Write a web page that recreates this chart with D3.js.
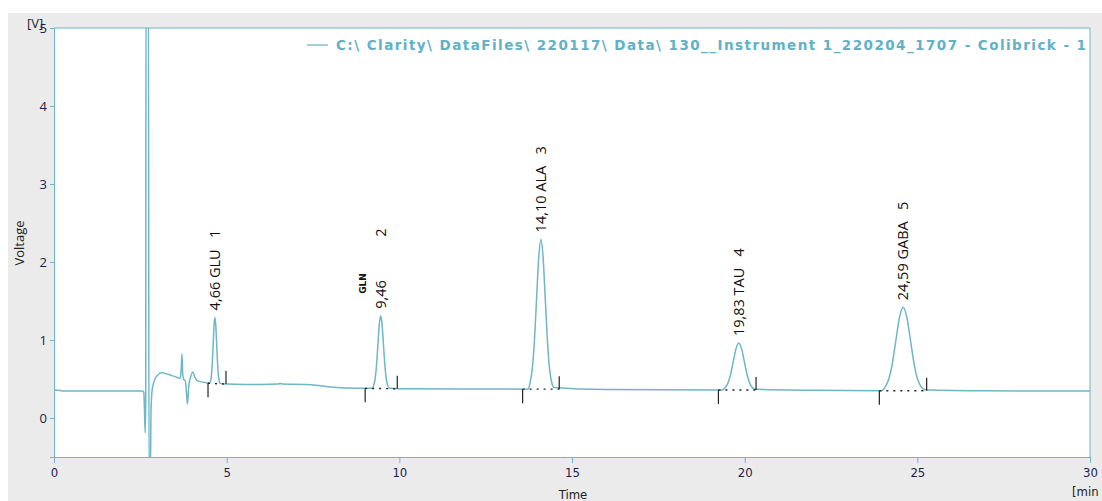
<!DOCTYPE html>
<html><head><meta charset="utf-8">
<script src="https://cdn.jsdelivr.net/npm/d3@7"></script>
<style>
html,body{margin:0;padding:0;background:#fff;}
svg{display:block;}
</style></head>
<body>
<svg id="c" width="1102" height="501"></svg>
<script>
// ---- data ----
const traceTime = [0,0.05,0.3,1.0,2.0,2.55,2.60,2.62,2.64,2.655,2.665,2.735,2.75,2.79,2.81,2.84,2.9,3.0,3.1,3.3,3.5,3.65,3.68,3.705,3.73,3.76,3.80,3.84,3.865,3.9,3.96,4.02,4.08,4.15,4.3,4.45,
 4.51,4.535,4.56,4.585,4.61,4.635,4.66,4.685,4.71,4.735,4.76,4.785,4.81,
 5.0,5.5,6.0,6.5,6.55,6.6,7.3,7.7,8.0,8.5,9.0,9.22,
 9.26,9.30,9.34,9.38,9.42,9.46,9.50,9.54,9.58,9.62,9.66,9.70,
 10.0,12.0,13.725,
 13.7875,13.85,13.9125,13.975,14.0375,14.10,14.1625,14.225,14.2875,14.35,14.4125,14.475,
 16.0,19.35,
 19.43,19.51,19.59,19.67,19.75,19.83,19.91,19.99,20.07,20.15,20.23,20.31,
 22.0,23.96,
 24.065,24.17,24.275,24.38,24.485,24.59,24.695,24.80,24.905,25.01,25.115,25.22,
 27.0,30.0];
const traceVoltage = [0.35,0.36,0.345,0.345,0.345,0.345,0.33,0.1,-0.19,0.2,5.6,5.6,-0.7,-0.7,0.1,0.35,0.47,0.55,0.58,0.56,0.53,0.51,0.6,0.82,0.55,0.49,0.48,0.3,0.18,0.4,0.53,0.59,0.52,0.48,0.46,0.45,
 0.449,0.477,0.555,0.716,0.956,1.19,1.29,1.185,0.95,0.71,0.55,0.472,0.444,
 0.435,0.43,0.43,0.435,0.445,0.435,0.43,0.415,0.398,0.385,0.38,0.38,
 0.421,0.506,0.682,0.945,1.20,1.31,1.20,0.945,0.682,0.506,0.421,0.385,
 0.375,0.372,0.37,
 0.455,0.63,0.994,1.535,2.063,2.29,2.063,1.535,0.994,0.63,0.455,0.391,
 0.365,0.36,
 0.386,0.441,0.555,0.724,0.889,0.96,0.889,0.724,0.555,0.441,0.386,0.367,
 0.355,0.35,
 0.397,0.494,0.698,1.0,1.294,1.42,1.294,1.0,0.698,0.494,0.397,0.362,
 0.348,0.345];

const peakTime   = [4.66, 9.46, 14.10, 19.83, 24.59];
const peakHeight = [1.29, 1.31, 2.29, 0.96, 1.42];
const peakName   = ["GLU", "GLN", "ALA", "TAU", "GABA"];
const peakLabel  = ["4,66 GLU\u00a0\u00a0\u00a01", "9,46", "14,10 ALA\u00a0\u00a0\u00a03", "19,83 TAU\u00a0\u00a0\u00a04", "24,59 GABA\u00a0\u00a0\u00a05"];
const peakStart  = [4.46, 9.01, 13.57, 19.24, 23.90];
const peakEnd    = [4.98, 9.94, 14.63, 20.33, 25.27];
const startBase  = [0.445, 0.38, 0.37, 0.36, 0.35];
const endBase    = [0.435, 0.375, 0.37, 0.358, 0.35];

const xTicks = [0, 5, 10, 15, 20, 25, 30];
const yTicks = [0, 1, 2, 3, 4, 5];
const legendText = "C:\\ Clarity\\ DataFiles\\ 220117\\ Data\\ 130__Instrument 1_220204_1707 - Colibrick - 1";

// ---- layout ----
const svg = d3.select("#c");
const L = 54, R = 1090, T = 28, B = 457;
const x = d3.scaleLinear().domain([0, 30]).range([L, R]);
const y = d3.scaleLinear().domain([-0.5, 5]).range([B, T]);
const teal = "#6fb6c7";
const tickCol = "#1d1d4f";

svg.append("rect").attr("x", 8).attr("y", 13).attr("width", 1094).attr("height", 488).attr("fill", "#ebebeb");
svg.append("rect").attr("x", L).attr("y", T).attr("width", R - L).attr("height", B - T).attr("fill", "#fff");

svg.append("defs").append("clipPath").attr("id", "clip")
  .append("rect").attr("x", L).attr("y", T).attr("width", R - L).attr("height", B - T);

// axes
const xAxis = d3.axisBottom(x).tickValues(xTicks).tickSize(6).tickPadding(5).tickFormat(d3.format("d"));
const gx = svg.append("g").attr("transform", `translate(0,${B})`).call(xAxis);
gx.select(".domain").attr("stroke", teal);
gx.selectAll(".tick line").attr("stroke", teal);
gx.selectAll(".tick text").attr("fill", tickCol).attr("font-family", "'Liberation Sans Narrow','DejaVu Sans Condensed',sans-serif").attr("font-size", 13);

const yAxis = d3.axisLeft(y).tickValues(yTicks).tickSize(4).tickPadding(3).tickFormat(d3.format("d"));
const gy = svg.append("g").attr("transform", `translate(${L},0)`).call(yAxis);
gy.select(".domain").attr("stroke", teal);
gy.selectAll(".tick line").attr("stroke", teal);
gy.selectAll(".tick text").attr("fill", tickCol).attr("font-family", "'Open Sans',sans-serif").attr("font-size", 13);

// frame top/right
svg.append("line").attr("x1", L).attr("x2", R).attr("y1", T).attr("y2", T).attr("stroke", teal);
svg.append("line").attr("x1", R).attr("x2", R).attr("y1", T).attr("y2", B).attr("stroke", teal);

// trace
const pts = traceTime.map((t, i) => [t, traceVoltage[i]]);
const line = d3.line().x(d => x(d[0])).y(d => y(d[1])).curve(d3.curveMonotoneX);
svg.append("path").attr("clip-path", "url(#clip)").attr("d", line(pts))
  .attr("fill", "none").attr("stroke", teal).attr("stroke-width", 1.5);

// integration marks
const marks = svg.append("g").attr("stroke", "#222");
peakTime.forEach((p, i) => {
  marks.append("line").attr("x1", x(peakStart[i])).attr("x2", x(peakStart[i]))
    .attr("y1", y(startBase[i])).attr("y2", y(startBase[i]) + 14).attr("stroke-width", 1.2);
  marks.append("line").attr("x1", x(peakEnd[i])).attr("x2", x(peakEnd[i]))
    .attr("y1", y(endBase[i])).attr("y2", y(endBase[i]) - 13).attr("stroke-width", 1.2);
  marks.append("line").attr("x1", x(peakStart[i])).attr("x2", x(peakEnd[i]))
    .attr("y1", y(startBase[i])).attr("y2", y(endBase[i]))
    .attr("stroke-dasharray", "2,5").attr("stroke-width", 1.4);
});

// peak labels
const lab = svg.append("g").attr("font-family", "'Open Sans',sans-serif").attr("font-size", 14.5).attr("fill", "#111");
peakTime.forEach((p, i) => {
  const px = x(p), py = y(peakHeight[i]) - 7;
  lab.append("text").attr("transform", `translate(${px + 5},${py}) rotate(-90)`)
    .style("white-space", "pre").text(peakLabel[i]);
});
// GLN separate small bold name and number
{
  const px = x(peakTime[1]), py = y(peakHeight[1]) - 7;
  lab.append("text").attr("transform", `translate(${px - 15},${py - 15}) rotate(-90)`)
    .attr("font-size", 9).attr("font-weight", "bold").attr("font-family", "'DejaVu Sans',sans-serif").text(peakName[1]);
  lab.append("text").attr("transform", `translate(${px + 5},${py - 72}) rotate(-90)`).text("2");
}

// legend
svg.append("line").attr("x1", 307).attr("x2", 328).attr("y1", 45).attr("y2", 45).attr("stroke", teal).attr("stroke-width", 1.3);
svg.append("text").attr("x", 336).attr("y", 50).attr("font-family", "'DejaVu Sans',sans-serif").attr("font-weight", "bold")
  .attr("font-size", 13.5).attr("fill", "#62b0c8").attr("textLength", 750).attr("lengthAdjust", "spacing").text(legendText);

// axis titles
svg.append("text").attr("transform", "translate(24,243) rotate(-90)").attr("text-anchor", "middle")
  .attr("font-family", "'Open Sans',sans-serif").attr("font-size", 13).attr("fill", "#222").text("Voltage");
svg.append("text").attr("x", 27).attr("y", 28).attr("font-family", "'Open Sans',sans-serif").attr("font-size", 13).attr("fill", "#222").text("[V]");
svg.append("text").attr("x", 573).attr("y", 499).attr("text-anchor", "middle")
  .attr("font-family", "'Liberation Sans Narrow','DejaVu Sans Condensed',sans-serif").attr("font-size", 13).attr("fill", "#222").text("Time");
svg.append("text").attr("x", 1072).attr("y", 496)
  .attr("font-family", "'Liberation Sans Narrow','DejaVu Sans Condensed',sans-serif").attr("font-size", 13).attr("fill", "#222").text("[min");
</script>
</body></html>
